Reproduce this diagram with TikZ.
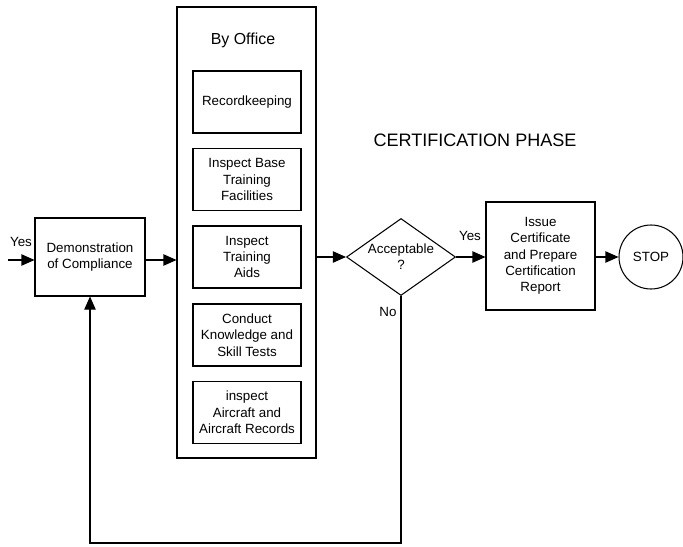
\documentclass[tikz,border=0pt]{standalone}
\usepackage{fontspec}
\setmainfont{Liberation Sans}
\usetikzlibrary{shapes.geometric,arrows.meta}

\begin{document}
\begin{tikzpicture}[x=0.3mm, y=-0.3mm, line width=0.9pt,
    >={Triangle[length=3.9mm, width=3.4mm]},
    txt/.style={font=\fontsize{11.4}{13.9}\selectfont, align=center},
    box/.style={txt, rectangle, draw, inner sep=1pt},
    task/.style={box, minimum width=32.4mm, minimum height=18.6mm},
    decision/.style={txt, diamond, draw, inner sep=0pt, aspect=1.4,
      minimum width=32.7mm, minimum height=23.1mm}]
\useasboundingbox (0,0) rectangle (683,546);

\node[box, minimum width=33mm, minimum height=23.4mm] (demo) at (90,257) {Demonstration\\of Compliance};

\node[box, minimum width=41.7mm, minimum height=135.3mm] (office) at (246.5,232.5) {};
\node[txt, font=\fontsize{13.6}{16}\selectfont] (byoffice) at (243,40) {By Office};
\node[task] (rec) at (247,102) {Recordkeeping};
\node[task] (base) at (247,179.5) {Inspect Base\\Training\\Facilities};
\node[task] (aids) at (247,257) {Inspect\\Training\\Aids};
\node[task] (tests) at (247,335) {Conduct\\Knowledge and\\Skill Tests};
\node[task] (acft) at (247,412.5) {inspect\\Aircraft and\\Aircraft Records};

\node[decision] (dec) at (401,257) {Acceptable\\?};
\node[box, minimum width=32.7mm, minimum height=32.4mm] (cert) at (540.5,256) {Issue\\Certificate\\and Prepare\\Certification\\Report};
\node[txt, circle, draw, minimum size=19.2mm, inner sep=0pt] (stop) at (651,257) {STOP};

\node[font=\fontsize{15.4}{18}\selectfont] (phase) at (475,140) {CERTIFICATION PHASE};

\node[txt] (yesin) at (21,242) {Yes};
\node[txt] (yesout) at (470,236) {Yes};
\node[txt] (no) at (388,312) {No};

\coordinate (in) at (8,260);
\coordinate (back) at (0,543);

\draw[->] (in) -- (in -| demo.west);
\draw[->] (demo.east |- in) -- (in -| office.west);
\draw[->] (office.east |- dec) -- (dec.west);
\draw[->] (dec.east) -- (cert.west |- dec);
\draw[->] (cert.east |- stop) -- (stop.west);
\draw[->] (dec.south) |- (demo.south |- back) -- (demo.south);

\end{tikzpicture}
\end{document}
